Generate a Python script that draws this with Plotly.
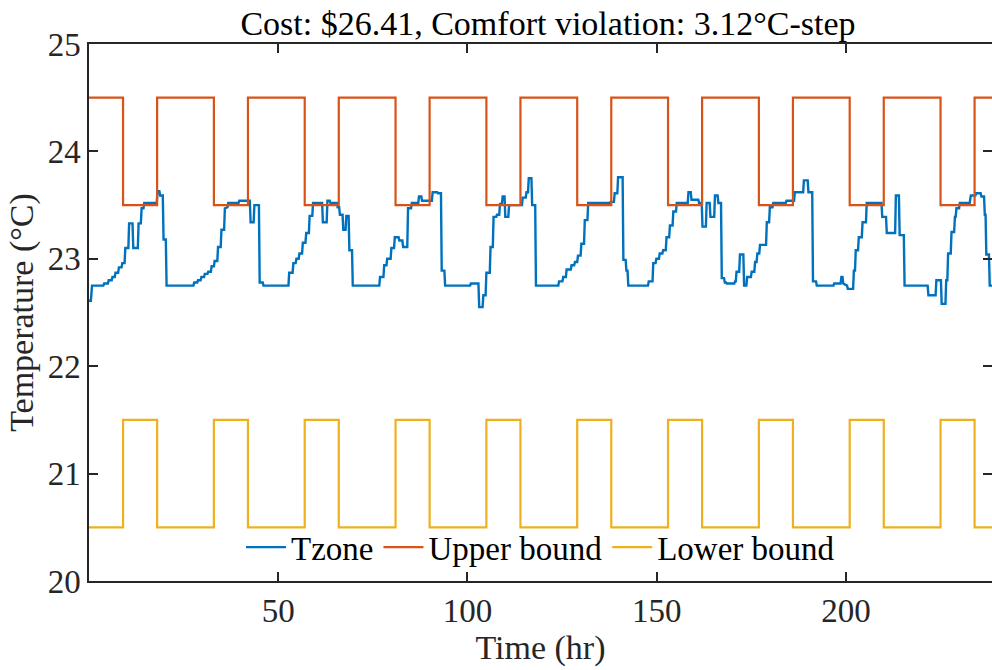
import plotly.graph_objects as go

# ---- data ----
bound_times = [0, 9, 18, 33, 42, 57, 66, 81, 90, 105, 114, 129, 138, 153, 162,
               177, 186, 201, 210, 225, 234, 240]
upper_bound = [24.5, 23.5, 24.5, 23.5, 24.5, 23.5, 24.5, 23.5, 24.5, 23.5, 24.5,
               23.5, 24.5, 23.5, 24.5, 23.5, 24.5, 23.5, 24.5, 23.5, 24.5, 24.5]
lower_bound = [20.5, 21.5, 20.5, 21.5, 20.5, 21.5, 20.5, 21.5, 20.5, 21.5, 20.5,
               21.5, 20.5, 21.5, 20.5, 21.5, 20.5, 21.5, 20.5, 21.5, 20.5, 20.5]

tzone_time = [
    0.0, 0.5, 0.8, 3.8, 4.0, 5.0, 5.2, 6.0, 6.2, 6.8, 7.0, 7.7, 7.9, 8.6, 8.8, 9.4, 9.6, 10.4,
    10.6, 11.5, 11.7, 12.9, 13.1, 13.7, 13.9, 14.4, 14.6, 17.9, 18.1, 18.6, 18.8, 19.5, 19.7,
    20.3, 20.5,
    27.6, 27.8, 28.6, 28.8, 29.5, 29.7, 30.4, 30.6, 31.3, 31.5, 32.2, 32.4, 33.0, 33.2, 33.9,
    34.1, 34.8, 35.0, 35.7, 35.9, 36.6, 36.8, 39.5, 39.7, 42.5, 42.7, 43.5, 43.7, 44.9, 45.1,
    45.9, 46.1,
    52.7, 52.9, 53.8, 54.0, 54.6, 54.8, 55.4, 55.6, 56.3, 56.5, 57.2, 57.4, 58.1, 58.3, 59.0,
    59.2, 61.6, 61.8, 62.8, 63.0, 63.6, 63.8, 65.5, 65.7, 66.1, 66.3, 67.0, 67.2, 67.8, 68.0,
    68.6, 68.8, 69.5, 69.7,
    76.7, 76.9, 77.8, 78.0, 78.6, 78.8, 79.7, 79.9, 80.6, 80.8, 81.8, 82.0, 82.8, 83.0, 84.1,
    84.3, 85.1, 85.3, 87.0, 87.2, 87.8, 88.0, 90.6, 90.8, 92.0, 92.2, 93.0, 93.2, 93.9, 94.1,
    100.7, 100.9, 102.9, 103.1, 104.0, 104.2, 104.8, 105.0, 105.9, 106.1, 106.7, 106.9, 107.6,
    107.8, 108.4, 108.6, 109.1, 109.3, 109.8, 110.0, 110.8, 111.0, 114.4, 114.6, 115.4, 115.6,
    116.0, 116.2, 116.9, 117.1, 117.9, 118.1,
    124.0, 124.2, 125.1, 125.3, 126.0, 126.2, 127.3, 127.5, 128.2, 128.4, 129.0, 129.2, 129.9,
    130.1, 130.8, 131.0, 131.7, 131.9, 137.6, 137.8, 138.7, 138.9, 139.6, 139.8, 141.0, 141.2,
    141.8, 142.0, 142.3, 142.5,
    147.7, 147.9, 148.9, 149.1, 149.7, 149.9, 150.6, 150.8, 151.5, 151.7, 152.4, 152.6, 153.3,
    153.5, 154.2, 154.4, 155.1, 155.3, 158.2, 158.4, 159.0, 159.2, 161.0, 161.2, 161.9, 162.1,
    163.0, 163.2, 164.0, 164.2, 165.2, 165.4, 166.1, 166.3, 167.0, 167.2, 167.8, 168.0, 168.3,
    168.5, 170.5, 170.7, 170.9, 171.1, 171.8, 172.0, 172.9, 173.1, 173.7, 173.9, 174.9, 175.1,
    175.8, 176.0, 176.4, 176.6, 177.1, 177.3, 178.9, 179.1, 179.7, 179.9, 180.6, 180.8, 184.1,
    184.3, 186.3, 186.5, 188.7, 188.9, 189.9, 190.1, 191.1, 191.3, 192.1, 192.3,
    196.7, 196.9, 198.6, 198.8, 199.1, 199.3, 200.3, 200.5, 201.9, 202.1, 202.4, 202.6, 203.2,
    203.4, 204.2, 204.4, 205.3, 205.5, 209.4, 209.6, 210.6, 210.8, 213.0, 213.2, 214.0, 214.2,
    215.3, 215.5,
    221.6, 221.8, 223.7, 223.9, 225.1, 225.3, 226.3, 226.5, 226.8, 227.0, 227.7, 227.9, 228.6,
    228.8, 229.0, 229.2, 229.9, 230.1, 232.7, 233.0, 234.2, 234.4, 235.6, 235.8, 236.5, 236.7,
    236.9, 237.1, 237.8, 238.0, 238.6,
]
tzone_temp = [
    22.61, 22.61, 22.75, 22.75, 22.77, 22.77, 22.80, 22.80, 22.83, 22.83, 22.87, 22.87, 22.92,
    22.92, 22.96, 22.96, 23.10, 23.10, 23.33, 23.33, 23.10, 23.10, 23.33, 23.33, 23.47, 23.47,
    23.52, 23.52, 23.63, 23.63, 23.59, 23.59, 23.18, 23.18, 22.75,
    22.75, 22.78, 22.78, 22.80, 22.80, 22.83, 22.83, 22.86, 22.86, 22.88, 22.88, 22.93, 22.93,
    22.98, 22.98, 23.11, 23.11, 23.27, 23.27, 23.47, 23.48, 23.52, 23.52, 23.54, 23.54, 23.34,
    23.34, 23.50, 23.50, 22.78, 22.78, 22.75,
    22.75, 22.87, 22.87, 22.96, 22.96, 23.00, 23.00, 23.05, 23.05, 23.15, 23.15, 23.24, 23.24,
    23.40, 23.40, 23.52, 23.52, 23.34, 23.34, 23.54, 23.54, 23.52, 23.52, 23.48, 23.48, 23.41,
    23.41, 23.27, 23.27, 23.40, 23.40, 23.08, 23.08, 22.75,
    22.75, 22.83, 22.83, 22.94, 22.94, 23.00, 23.00, 23.10, 23.10, 23.20, 23.20, 23.17, 23.17,
    23.11, 23.11, 23.47, 23.47, 23.52, 23.52, 23.58, 23.58, 23.54, 23.54, 23.62, 23.62, 23.61,
    23.61, 22.89, 22.89, 22.75,
    22.75, 22.77, 22.77, 22.55, 22.55, 22.66, 22.66, 22.87, 22.87, 23.11, 23.11, 23.39, 23.39,
    23.41, 23.41, 23.51, 23.51, 23.58, 23.58, 23.39, 23.39, 23.50, 23.50, 23.57, 23.57, 23.62,
    23.62, 23.75, 23.75, 23.50, 23.50, 22.75,
    22.75, 22.79, 22.79, 22.83, 22.83, 22.90, 22.90, 22.94, 22.94, 22.97, 22.97, 23.03, 23.03,
    23.14, 23.14, 23.36, 23.36, 23.52, 23.52, 23.53, 23.53, 23.61, 23.61, 23.76, 23.76, 22.99,
    22.99, 22.89, 22.89, 22.75,
    22.75, 22.79, 22.79, 22.96, 22.96, 23.00, 23.00, 23.05, 23.05, 23.08, 23.08, 23.20, 23.20,
    23.31, 23.31, 23.44, 23.44, 23.52, 23.52, 23.62, 23.62, 23.55, 23.55, 23.52, 23.52, 23.30,
    23.30, 23.52, 23.52, 23.39, 23.39, 23.59, 23.59, 23.52, 23.52, 22.82, 22.82, 22.78, 22.78,
    22.77, 22.77, 22.79, 22.79, 22.88, 22.88, 23.04, 23.04, 22.75, 22.75, 22.83, 22.83, 22.88,
    22.88, 22.97, 22.97, 23.05, 23.05, 23.13, 23.13, 23.34, 23.34, 23.48, 23.48, 23.52, 23.52,
    23.54, 23.54, 23.62, 23.62, 23.73, 23.73, 23.62, 23.62, 22.79, 22.79, 22.75,
    22.75, 22.77, 22.77, 22.83, 22.83, 22.77, 22.75, 22.72, 22.72, 22.89, 22.89, 23.08, 23.08,
    23.20, 23.20, 23.34, 23.34, 23.52, 23.52, 23.39, 23.39, 23.24, 23.24, 23.59, 23.59, 23.22,
    23.22, 22.75,
    22.75, 22.66, 22.66, 22.80, 22.80, 22.58, 22.58, 22.80, 22.80, 23.05, 23.05, 23.25, 23.25,
    23.39, 23.39, 23.47, 23.47, 23.52, 23.52, 23.59, 23.59, 23.61, 23.61, 23.58, 23.58, 23.41,
    23.41, 23.04, 23.04, 22.75, 22.75,
]

x_ticks = [50, 100, 150, 200]
y_ticks = [20, 21, 22, 23, 24, 25]
y_range = [20, 25]

FONT = "Liberation Serif, Times New Roman, serif"
AX = "#262626"

fig = go.Figure()
fig.add_trace(go.Scatter(x=tzone_time, y=tzone_temp, mode="lines", name="Tzone",
                         line=dict(color="#0072BD", width=2.4)))
fig.add_trace(go.Scatter(x=bound_times, y=upper_bound, mode="lines", name="Upper bound",
                         line=dict(color="#D95319", width=2.2, shape="hv")))
fig.add_trace(go.Scatter(x=bound_times, y=lower_bound, mode="lines", name="Lower bound",
                         line=dict(color="#EDB120", width=2.2, shape="hv")))

tick_common = dict(showgrid=False, zeroline=False, ticks="inside", ticklen=9,
                   tickwidth=1.5, tickcolor=AX,
                   tickfont=dict(family=FONT, size=33, color=AX))

fig.update_layout(
    width=992, height=670,
    margin=dict(l=89, r=0, t=44, b=89),
    paper_bgcolor="white", plot_bgcolor="white",
    font=dict(family=FONT, size=33, color="black"),
    title=dict(text="Cost: $26.41, Comfort violation: 3.12°C-step",
               x=548 / 992, xref="container", xanchor="center",
               y=1 - 23 / 670, yref="container", yanchor="middle",
               font=dict(family=FONT, size=34, color="black")),
    xaxis=dict(range=[0, 238.6], tickvals=x_ticks, showline=True, linecolor=AX,
               linewidth=1.5, mirror="ticks",
               title=dict(text="Time (hr)", font=dict(family=FONT, size=34, color=AX),
                          standoff=2),
               **tick_common),
    yaxis=dict(range=y_range, tickvals=y_ticks, showline=True, linecolor=AX,
               linewidth=1.5, mirror=False,
               title=dict(text="Temperature (°C)", font=dict(family=FONT, size=34, color=AX),
                          standoff=4),
               **tick_common),
    yaxis2=dict(range=y_range, tickvals=y_ticks, overlaying="y", side="right",
                showline=False, showticklabels=False, **tick_common),
    legend=dict(orientation="h", x=0.5, xanchor="center", y=0.063, yanchor="middle",
                bgcolor="rgba(0,0,0,0)", font=dict(family=FONT, size=33, color="black"),
                itemwidth=40, tracegroupgap=0),
    showlegend=True,
)
# invisible helper trace so the right-hand tick axis is drawn
fig.add_trace(go.Scatter(x=[bound_times[0]], y=[lower_bound[0]], yaxis="y2",
                         mode="lines", showlegend=False, hoverinfo="skip",
                         line=dict(width=0)))

fig.write_html("out.html")
